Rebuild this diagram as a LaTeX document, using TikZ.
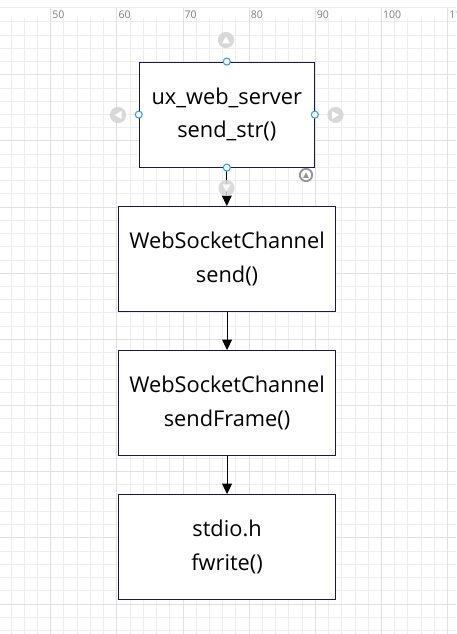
\documentclass[tikz,border=0pt]{standalone}
\usepackage{fontspec}
\setmainfont{Open Sans}
\usepackage{tikz}
\usetikzlibrary{arrows.meta, positioning}
\definecolor{boxline}{RGB}{25,25,70}
\definecolor{gridminor}{RGB}{237,237,237}
\definecolor{gridmajor}{RGB}{224,224,224}
\definecolor{rulertext}{RGB}{125,125,125}
\definecolor{handlegrey}{RGB}{212,212,212}
\definecolor{ringgrey}{RGB}{150,150,150}
\definecolor{handleblue}{RGB}{51,153,255}
\tikzset{
  fnbox/.style={rectangle, draw=boxline, fill=white, line width=0.6pt,
    align=center, font=\fontsize{12.4}{18.9}\selectfont,
    minimum width=4.35cm, minimum height=2.09cm, inner sep=0pt},
  topbox/.style={fnbox, minimum width=3.5cm, minimum height=2.1cm},
  arrow/.style={-{Triangle[length=6pt,width=5.6pt]}, line width=0.6pt, color=black},
  rulerlabel/.style={anchor=west, inner sep=0pt, font=\fontsize{6}{7}\selectfont, text=rulertext},
  bluedot/.style={fill=white, draw=handleblue, line width=0.6pt}
}

\begin{document}
\begin{tikzpicture}[x=0.02cm, y=-0.02cm, node distance=0.77cm]
  \useasboundingbox (0,0) rectangle (456,634);
  \clip (0,0) rectangle (456,634);

  % Grid and ruler
  \draw[gridminor, line width=0.5pt] (0,7) -- (456,7);
  \foreach \i in {0,...,33}
    \draw[gridminor, line width=0.55pt] ({11.0+13.23*\i},18) -- ({11.0+13.23*\i},634);
  \foreach \j in {-2,...,44}
    \draw[gridminor, line width=0.55pt] (0,{604-13.23*\j}) -- (456,{604-13.23*\j});
  \foreach \j in {0,...,8}
    \draw[gridmajor, line width=0.55pt] (0,{604-66.15*\j}) -- (456,{604-66.15*\j});
  \foreach \k/\lab in {0/50, 1/60, 2/70, 3/80, 4/90, 5/100, 6/110} {
    \draw[gridmajor, line width=0.55pt] ({50.7+66.15*\k},8) -- ({50.7+66.15*\k},634);
    \node[rulerlabel] (r\lab) at ({52+66.15*\k},15) {\lab};
  }

  % Call chain
  \node[topbox] (server) at (226.8,114.6) {ux\_web\_server\\send\_str()};
  \node[fnbox, below=of server.south, anchor=north, xshift=0.005cm] (chansend) {WebSocketChannel\\send()};
  \node[fnbox, below=of chansend] (chanframe) {WebSocketChannel\\sendFrame()};
  \node[fnbox, below=of chanframe] (fwrite) {stdio.h\\fwrite()};
  \draw[arrow] (server.south) -- (server.south |- chansend.north);
  \draw[arrow] (chansend) -- (chanframe);
  \draw[arrow] (chanframe) -- (fwrite);

  % Selection handles
  \fill[handlegrey, opacity=0.9] (226,40) circle[radius=4.6pt];
  \fill[white] (222,43.5) -- (230,43.5) -- (226,36.5) -- cycle;
  \fill[handlegrey, opacity=0.9] (118,115) circle[radius=4.6pt];
  \fill[white] (121.5,111) -- (121.5,119) -- (114.5,115) -- cycle;
  \fill[handlegrey, opacity=0.9] (335.5,115) circle[radius=4.6pt];
  \fill[white] (332,111) -- (332,119) -- (339,115) -- cycle;
  \fill[handlegrey, opacity=0.85] (226.5,188) circle[radius=4.6pt];
  \fill[white, opacity=0.9] (222.5,184.5) -- (230.5,184.5) -- (226.5,191.5) -- cycle;
  \draw[ringgrey, line width=1.1pt] (306,175) circle[radius=3.5pt];
  \fill[ringgrey] (303,178) -- (309,178) -- (306,172.5) -- cycle;
  \filldraw[bluedot] (server.north) circle[radius=2pt];
  \filldraw[bluedot] (server.west) circle[radius=2pt];
  \filldraw[bluedot] (server.east) circle[radius=2pt];
  \filldraw[bluedot] (server.south) circle[radius=2pt];
\end{tikzpicture}
\end{document}
